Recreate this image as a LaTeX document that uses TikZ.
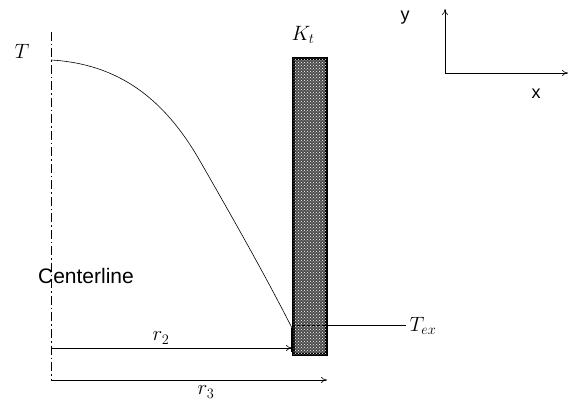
\documentclass[tikz,border=0pt]{standalone}
\usepackage{fontspec}
\setsansfont{Liberation Sans}
\usepackage{tikz}
\usetikzlibrary{arrows.meta, positioning, patterns}

\begin{document}
\begin{tikzpicture}[
  x=1pt, y=-1pt,
  wall/.style   = {rectangle, draw=black, line width=3pt, fill=black!70,
                   postaction={pattern=crosshatch dots, pattern color=white},
                   minimum width=33pt, minimum height=296pt, inner sep=0pt},
  axislbl/.style = {font=\sffamily\fontsize{18}{20}\selectfont},
  mathlbl/.style = {font=\fontsize{20.74}{24}\selectfont},
  arr/.style    = {-{To[length=6pt,width=6pt]}, semithick},
  cline/.style  = {semithick, dash pattern=on 9pt off 3pt on 1.5pt off 3pt},
]
  \useasboundingbox (0,0) rectangle (573,403);

  % Wall
  \node[wall] (wall) at (310,206.5) {};
  \node[mathlbl] (kt) at (303,35) {$K_t$};

  % Centerline
  \coordinate (ctop) at (51,32);
  \coordinate (cbot) at (51,380);
  \draw[cline] (ctop) -- (cbot);
  \node[mathlbl] (tlbl) at (22,51) {$T$};
  \node[font=\sffamily\fontsize{21}{24}\selectfont] (cl) at (86,276) {Centerline};

  % Temperature profile
  \coordinate (tstart) at (51,60);
  \coordinate (tmid) at (200,161);
  \coordinate (tend) at (292,328);
  \draw[semithick] (tstart) .. controls (120,64) and (165,100) .. (tmid)
                   .. controls (235,222) and (265,275) .. (tend);
  \draw[line width=2.5pt] (292,328) -- (292,352);

  % Exit temperature
  \coordinate (texin) at (292,325);
  \node[mathlbl, anchor=west] (tex) at (406,326) {$T_{ex}$};
  \draw[thin, densely dashed] (texin) -- (wall.east |- texin);
  \draw[semithick] (wall.east |- texin) -- (tex.west |- texin);

  % Radii
  \coordinate (r2s) at (51,348);
  \coordinate (r3s) at (51,380);
  \draw[arr] (r2s) -- (wall.west |- r2s);
  \node[mathlbl] (r2) at (161,338) {$r_2$};
  \draw[arr] (r3s) -- (327,380);
  \node[mathlbl] (r3) at (206,392) {$r_3$};

  % Axes
  \coordinate (o) at (445,73);
  \coordinate (yend) at (445,9);
  \coordinate (xend) at (568,73);
  \draw[arr] (o) -- (yend);
  \draw[arr] (o) -- (xend);
  \node[axislbl] (ylbl) at (405,18) {y};
  \node[axislbl] (xlbl) at (536,94) {x};
\end{tikzpicture}
\end{document}
